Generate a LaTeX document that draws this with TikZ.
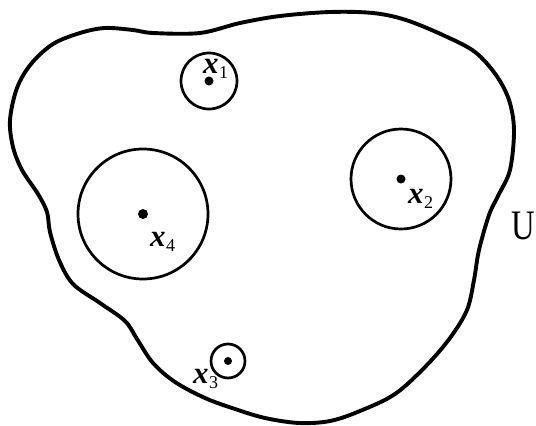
\documentclass[tikz,border=0pt]{standalone}
\usepackage{fontspec}
\setmainfont{Liberation Serif}
\newcommand{\xlab}[1]{\fontsize{31}{33}\selectfont\bfseries\itshape x\kern0.3pt\raisebox{-5pt}{\fontsize{18}{20}\selectfont\mdseries\upshape #1}}
\begin{document}
\begin{tikzpicture}[x=1pt,y=-1pt,
  ring/.style={draw, circle, line width=2.7pt, inner sep=0pt, minimum size=#1},
  pt/.style={fill, circle, inner sep=0pt, minimum size=9pt},
  lab/.style={anchor=base west, inner sep=0pt}]
\useasboundingbox (0,0) rectangle (536,426);
% outline of U
\draw[line width=3.9pt, line join=round]
  plot[smooth cycle, tension=0.55] coordinates {
  (10,120) (17,88) (31,64) (53,44) (80,33) (105,28) (133,30) (153,33) (200,33)
  (240,23) (280,16) (330,12) (373,13) (406,20) (445,36) (475,52) (496,75)
  (509,100) (514,130) (510,170) (498,196) (489,215) (479,250) (474,280)
  (467,310) (450,338) (426,366) (395,394) (360,411) (330,421) (299,423)
  (265,418) (235,409) (205,398) (175,382) (153,363) (137,339) (125,321)
  (100,303) (73,284) (59,260) (50,232) (47,212) (38,194) (22,170) (13,147)};
% circles and points
\node[ring=56pt] (c1) at (209,81) {};
\node[ring=100pt] (c2) at (401,179) {};
\node[ring=34pt] (c3) at (228,361) {};
\node[ring=130pt] (c4) at (143,214) {};
\node[pt] (p1) at (c1.center) {};
\node[pt] (p2) at (c2.center) {};
\node[pt, minimum size=8pt] (p3) at (c3.center) {};
\node[pt, minimum size=10pt] (p4) at (c4.center) {};
% labels
\node[lab] (l1) at (203,73) {\xlab{1}};
\node[lab] (l2) at (408,203) {\xlab{2}};
\node[lab] (l3) at (193,383) {\xlab{3}};
\node[lab] (l4) at (150,246) {\xlab{4}};
\node[anchor=base west, inner sep=0pt, xscale=0.78] (U) at (511,239) {\fontsize{42}{44}\selectfont U};
\end{tikzpicture}
\end{document}
